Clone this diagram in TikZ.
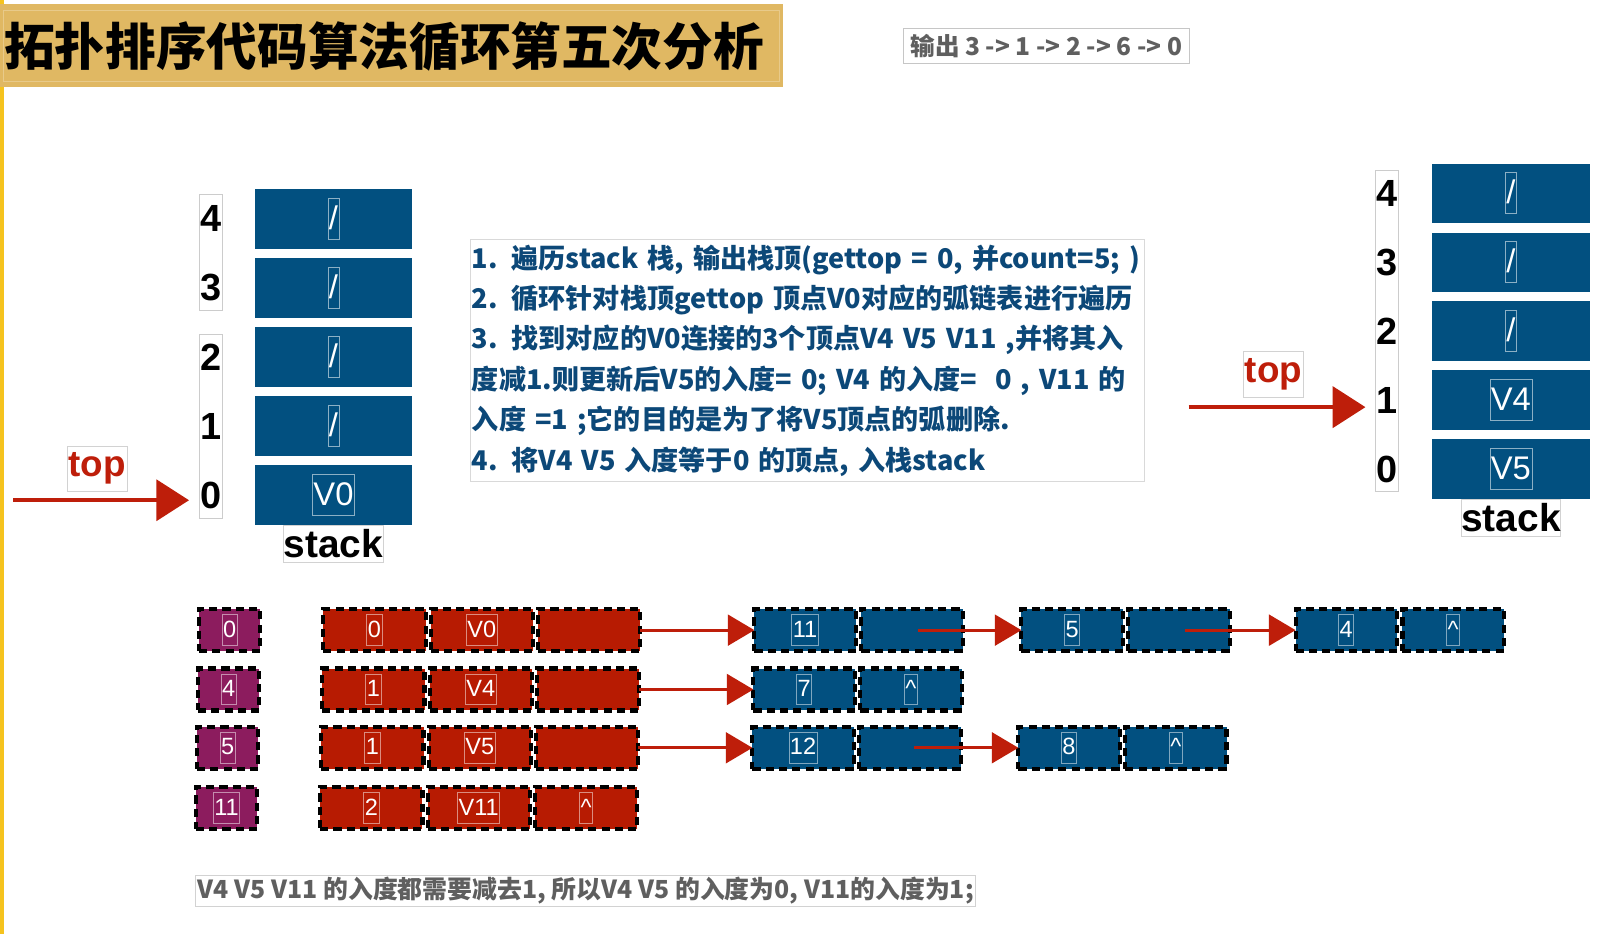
\documentclass[tikz,border=0pt]{standalone}
\usepackage{fontspec}
\setmainfont{Noto Sans CJK SC}
\newfontfamily\latinfont{Liberation Sans}
\usetikzlibrary{arrows.meta, positioning}

\definecolor{cellblue}{RGB}{2,80,128}
\definecolor{cellred}{RGB}{183,27,2}
\definecolor{cellpurple}{RGB}{140,28,94}
\definecolor{titlegold}{RGB}{224,184,99}
\definecolor{noteblue}{RGB}{12,72,120}
\definecolor{arrowred}{RGB}{190,30,10}
\definecolor{sidebar}{RGB}{245,195,30}
\definecolor{notegray}{RGB}{95,95,95}

\newcommand{\nul}{/}

\begin{document}
\begin{tikzpicture}[x=1pt, y=-1pt,
  stackcell/.style={fill=cellblue, minimum width=154pt, minimum height=58pt, inner sep=0pt},
  celltext/.style={draw=white, draw opacity=0.55, line width=0.7pt, text=white, inner sep=1pt,
    text height=29pt, text depth=9pt, font=\latinfont\fontsize{32}{32}\selectfont},
  idxnum/.style={inner sep=0pt, minimum width=22pt, font=\latinfont\bfseries\fontsize{37}{37}\selectfont},
  idxframe/.style={draw=gray!40, line width=0.8pt},
  stacklab/.style={draw=gray!35, line width=0.8pt, inner sep=0pt, minimum width=97pt, minimum height=36pt,
    font=\latinfont\bfseries\fontsize{38}{38}\selectfont},
  toplab/.style={draw=gray!35, line width=0.8pt, inner sep=0pt, minimum width=59pt, minimum height=44pt,
    text=arrowred, font=\latinfont\bfseries\fontsize{36}{36}\selectfont},
  toparrow/.style={-{Triangle[length=32pt, width=40pt]}, line width=4pt, arrowred},
  dashcell/.style={draw=black, line width=4pt, dash pattern=on 8pt off 5pt, minimum height=41pt,
    inner sep=0pt, outer sep=0pt},
  vcell/.style={dashcell, fill=cellpurple, minimum width=60pt},
  ecell/.style={dashcell, fill=cellred, minimum width=100pt},
  ncell/.style={dashcell, fill=cellblue, minimum width=99pt},
  listtext/.style={draw=white, draw opacity=0.5, line width=0.7pt, text=white, inner sep=1pt,
    text height=21pt, text depth=7pt, font=\latinfont\fontsize{23}{23}\selectfont},
  listarrow/.style={-{Triangle[length=26pt, width=30pt]}, line width=3pt, arrowred},
  notebox/.style={draw=gray!30, line width=0.8pt, text=noteblue, align=left, text width=655pt,
    inner xsep=2pt, inner ysep=0pt, minimum height=236pt, font=\bfseries\fontsize{26.5}{39.5}\selectfont},
]
\fill[white] (0,0) rectangle (1568,913);
\useasboundingbox (0,0) rectangle (1568,913);
\fill[sidebar] (0,0) rectangle (4,913);

% title and output
\node[fill=titlegold, anchor=north west, minimum width=765pt, minimum height=81pt, inner sep=0pt] (title) at (0,4) {};
\draw[titlegold!75!white, line width=1pt] (3,10) rectangle (762,80);
\node[anchor=west, inner sep=0pt, font=\bfseries\fontsize{49.5}{49.5}\selectfont] (titletext) at (4,45) {拓扑排序代码算法循环第五次分析};
\node[draw=gray!45, line width=0.8pt, text=notegray, minimum width=280pt, minimum height=34pt, inner sep=0pt,
  font=\bfseries\fontsize{24}{24}\selectfont] (output) at (1023,45) {输出 3 -> 1 -> 2 -> 6 -> 0};

% left stack
\foreach \k/\t in {0/V0,1/\nul,2/\nul,3/\nul,4/\nul}{
  \node[stackcell] (ls\k) at (326,{484-67.5*\k}) {};
  \node[celltext] (lt\k) at (ls\k) {\t};
  \node[idxnum] (li\k) at (206,{484-67.5*\k}) {\k};
}
\draw[idxframe] (195,190) rectangle (217,303);
\draw[idxframe] (195,327) rectangle (217,507);
\node[stacklab, below=0pt of ls0] (lstack) {stack};
\node[toplab] (ltop) at (95,458) {top};
\coordinate (ltail) at (13,489);
\draw[toparrow, shorten >=10pt] (ltail) -- (ltail -| li0.west);

% right stack
\foreach \k/\t in {0/V5,1/V4,2/\nul,3/\nul,4/\nul}{
  \node[stackcell] (rs\k) at (1477,{458.5-67.4*\k}) {};
  \node[celltext] (rt\k) at (rs\k) {\t};
  \node[idxnum] (ri\k) at (1356,{458.5-67.4*\k}) {\k};
}
\draw[idxframe] (1345,167) rectangle (1367,480);
\node[stacklab, below=0pt of rs0] (rstack) {stack};
\node[toplab] (rtop) at (1245,366) {top};
\coordinate (rtail) at (1162,398);
\draw[toparrow, shorten >=10pt] (rtail) -- (rtail -| ri1.west);

% steps
\node[notebox, anchor=north west] (steps) at (459,234) {1. 遍历stack 栈, 输出栈顶(gettop = 0, 并count=5; )\\
2. 循环针对栈顶gettop 顶点V0对应的弧链表进行遍历\\
3. 找到对应的V0连接的3个顶点V4 V5 V11 ,并将其入\\
度减1.则更新后V5的入度= 0; V4 的入度=\ \ 0 , V11 的\\
入度 =1 ;它的目的是为了将V5顶点的弧删除.\\
4. 将V4 V5 入度等于0 的顶点, 入栈stack};

% adjacency list
\foreach \r/\y/\s/\v/\d/\w in {1/616/0/0/0/V0,2/674/-1/4/1/V4,3/731/-2/5/1/V5,4/790/-3/11/2/V11}{
  \node[vcell] (v\r) at ({224.5+\s},\y) {};
  \node[listtext] at (v\r) {\v};
  \node[ecell] (ekey\r) at ({366+\s},\y) {};
  \node[listtext] at (ekey\r) {\d};
  \node[ecell, right=5pt of ekey\r] (ename\r) {};
  \node[listtext] at (ename\r) {\w};
  \node[ecell, right=5pt of ename\r] (elink\r) {};
}
\node[listtext] at (elink4) {\textasciicircum};

\node[ncell] (n11) at (787,616) {};
\node[listtext] at (n11) {11};
\node[ncell, right=5.5pt of n11] (n11p) {};
\node[ncell] (n5) at (1048,616) {};
\node[listtext] at (n5) {5};
\node[ncell, right=5.5pt of n5] (n5p) {};
\node[ncell] (n4) at (1316,616) {};
\node[listtext] at (n4) {4};
\node[ncell, right=5.5pt of n4] (n4p) {};
\node[listtext] at (n4p) {\textasciicircum};

\node[ncell] (n7) at (786,674) {};
\node[listtext] at (n7) {7};
\node[ncell, right=5.5pt of n7] (n7p) {};
\node[listtext] at (n7p) {\textasciicircum};

\node[ncell] (n12) at (785,731) {};
\node[listtext] at (n12) {12};
\node[ncell, right=5.5pt of n12] (n12p) {};
\node[ncell] (n8) at (1045,731) {};
\node[listtext] at (n8) {8};
\node[ncell, right=5.5pt of n8] (n8p) {};
\node[listtext] at (n8p) {\textasciicircum};

\draw[listarrow] (elink1.east) -- (n11.west);
\draw[listarrow] (elink2.east) -- (n7.west);
\draw[listarrow] (elink3.east) -- (n12.west);
\draw[listarrow] ([xshift=6pt]n11p.center) -- (n5.west);
\draw[listarrow] ([xshift=6pt]n5p.center) -- (n4.west);
\draw[listarrow] ([xshift=4pt]n12p.center) -- (n8.west);

% summary
\node[draw=gray!35, line width=0.8pt, text=notegray, inner sep=2pt, anchor=west,
  font=\bfseries\fontsize{24.3}{24.3}\selectfont] (summary) at (191,871) {V4 V5 V11 的入度都需要减去1, 所以V4 V5 的入度为0, V11的入度为1;};
\end{tikzpicture}
\end{document}
